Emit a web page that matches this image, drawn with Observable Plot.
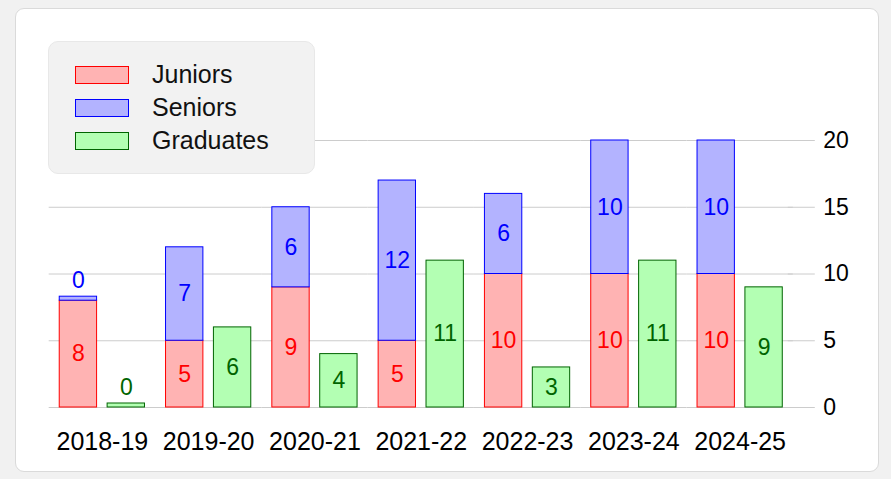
<!DOCTYPE html>
<html>
<head>
<meta charset="utf-8">
<script src="https://cdn.jsdelivr.net/npm/d3@7"></script>
<script src="https://cdn.jsdelivr.net/npm/@observablehq/plot@0.6"></script>
<style>
  html, body { margin: 0; padding: 0; background: #f1f1f1; width: 891px; height: 479px; overflow: hidden; }
  body { position: relative; font-family: "Liberation Sans", Arial, sans-serif; }
  #card { position: absolute; left: 15px; top: 8px; width: 862px; height: 462px; background: #fff; border: 1px solid #dadada; border-radius: 9px; }
  #chart { position: absolute; left: 0; top: 0; }
  #legend { position: absolute; left: 48px; top: 41px; width: 265px; height: 131px; background: #f2f2f2; border: 1px solid #e8e8e8; border-radius: 10px; }
  .sw { position: absolute; left: 26px; width: 52px; height: 16px; border: 1px solid; }
  .lt { position: absolute; left: 103px; font-size: 25px; line-height: 30px; color: #111; }
</style>
</head>
<body>
<div id="card"></div>
<div id="chart"></div>
<div id="legend"></div>
<script>
const periods = ["2018-19", "2019-20", "2020-21", "2021-22", "2022-23", "2023-24", "2024-25"];
const juniors = [8, 5, 9, 5, 10, 10, 10];
const seniors = [0, 7, 6, 12, 6, 10, 10];
const graduates = [0, 6, 4, 11, 3, 11, 9];
const seriesNames = ["Juniors", "Seniors", "Graduates"];
const fills = ["#ffb3b3", "#b3b3ff", "#b3ffb3"];
const strokes = ["red", "blue", "darkgreen"];
const yTicks = [0, 5, 10, 15, 20];

const rows = [];
periods.forEach((p, i) => {
  rows.push({period: p, group: "A", series: "Juniors", value: juniors[i]});
  rows.push({period: p, group: "A", series: "Seniors", value: seniors[i]});
  rows.push({period: p, group: "B", series: "Graduates", value: graduates[i]});
});

const minH = 0.3; // minimum drawn height so zero bars stay visible
const shown = d => Math.max(d.value, minH);

const plot = Plot.plot({
  width: 891,
  height: 479,
  marginLeft: 48.7,
  marginRight: 98.2,
  marginTop: 140,
  marginBottom: 72,
  style: {fontFamily: "'Liberation Sans', Arial, sans-serif", background: "transparent", fontSize: "23px"},
  fx: {domain: periods, paddingInner: 0, paddingOuter: 0, round: false, label: null},
  x: {domain: ["A", "B"], padding: 0.22, round: false, axis: null, label: null},
  y: {domain: [0, 20], label: null},
  color: {domain: seriesNames, range: fills},
  marks: [
    Plot.gridY(yTicks, {stroke: "#cccccc", strokeOpacity: 1}),
    Plot.axisY({anchor: "right", ticks: yTicks, tickSize: 27, tickPadding: 9, dx: -6, stroke: "#cccccc", strokeOpacity: 1, fill: "black", fontSize: 23, label: null}),
    Plot.axisFx({anchor: "bottom", tickSize: 0, tickPadding: 25, fontSize: 25, fill: "black", label: null}),
    Plot.barY(rows, {
      fx: "period", x: "group", y: shown, z: "series",
      order: seriesNames,
      fill: "series",
      stroke: d => strokes[seriesNames.indexOf(d.series)],
      strokeWidth: 1
    }),
    Plot.text(rows, Plot.stackY({
      fx: "period", x: "group", y: shown, z: "series",
      order: seriesNames,
      text: d => d.value > 0 ? String(d.value) : null,
      fill: d => strokes[seriesNames.indexOf(d.series)],
      fontSize: 23
    })),
    Plot.text(rows, Plot.stackY2({
      fx: "period", x: "group", y: shown, z: "series",
      order: seriesNames,
      text: d => d.value === 0 ? "0" : null,
      fill: d => strokes[seriesNames.indexOf(d.series)],
      fontSize: 23,
      dy: -16
    }))
  ]
});
document.getElementById("chart").appendChild(plot);

const legend = document.getElementById("legend");
const rowTops = [24, 57, 90];
seriesNames.forEach((name, i) => {
  const sw = document.createElement("div");
  sw.className = "sw";
  sw.style.top = rowTops[i] + "px";
  sw.style.background = fills[i];
  sw.style.borderColor = strokes[i];
  legend.appendChild(sw);
  const t = document.createElement("div");
  t.className = "lt";
  t.style.top = (rowTops[i] - 7) + "px";
  t.textContent = name;
  legend.appendChild(t);
});
</script>
</body>
</html>
